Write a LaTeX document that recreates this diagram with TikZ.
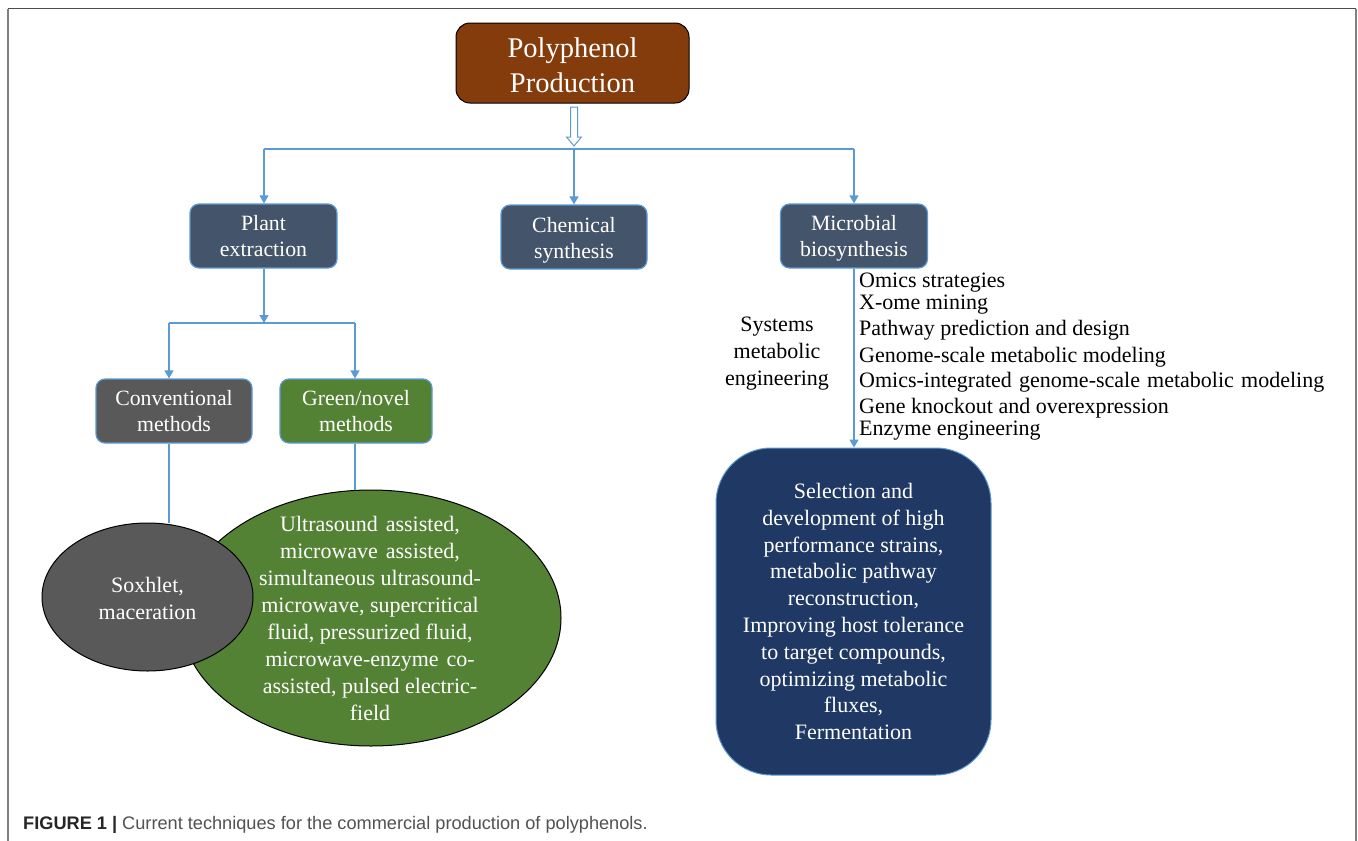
\documentclass[tikz,border=0pt]{standalone}
\usepackage{fontspec}
\setmainfont{Liberation Serif}
\newfontfamily\capfont{Liberation Sans}
\usetikzlibrary{shapes.geometric,arrows.meta}
\definecolor{linkblue}{HTML}{5B9BD5}
\definecolor{brownfill}{HTML}{843C0C}
\definecolor{slatefill}{HTML}{44546A}
\definecolor{darkgrey}{HTML}{595959}
\definecolor{greenfill}{HTML}{548235}
\definecolor{navyfill}{HTML}{1F3864}
\definecolor{framegrey}{HTML}{808080}
\definecolor{frametop}{HTML}{4D4D4D}
\tikzset{
  x=1pt,y=-1pt,
  link/.style={draw=linkblue,line width=1.4pt},
  arrowlink/.style={link,-{Triangle[length=8pt,width=9pt]}},
  boxbase/.style={rounded corners=9pt,draw=linkblue,line width=1.2pt,text=white,align=center,inner sep=0pt,anchor=center,font=\fontsize{21.8}{26}\selectfont},
  slatebox/.style={boxbase,fill=slatefill},
  greybox/.style={boxbase,fill=darkgrey},
  greenbox/.style={boxbase,fill=greenfill},
  blob/.style={ellipse,draw=black,line width=1pt,text=white,align=center,inner sep=0pt},
  listline/.style={anchor=west,inner sep=0pt,text=black,font=\fontsize{22}{24}\selectfont},
}
\begin{document}
\begin{tikzpicture}
\useasboundingbox (0,0) rectangle (1358,841);
\fill[white] (0,0) rectangle (1358,841);
\draw[framegrey,line width=1.4pt] (8,841) -- (8,8.5);
\draw[framegrey,line width=1.4pt] (1356,8.5) -- (1356,841);
\draw[frametop,line width=1.2pt] (8,8.5) -- (1356,8.5);
\node[rounded corners=14pt,draw=black,line width=1pt,fill=brownfill,text=white,minimum width=233pt,minimum height=80pt,inner sep=0pt,align=center,font=\fontsize{28.5}{35}\selectfont] (root) at (572.5,63) {\rule{0pt}{25pt}Polyphenol\\Production};
\coordinate (hubleft) at (264,149);
\coordinate (hubright) at (854,149);
\coordinate (hubmid) at (574,149);
\node[slatebox,minimum width=147pt,minimum height=64pt] (plant) at (263.5,236) {Plant\\extraction};
\node[slatebox,minimum width=146pt,minimum height=64pt] (chem) at (574,237) {\rule{0pt}{21pt}Chemical\\synthesis};
\node[slatebox,minimum width=147pt,minimum height=64pt] (micro) at (854,236) {\rule{0pt}{19pt}Microbial\\biosynthesis};
\node[greybox,minimum width=156pt,minimum height=64pt] (conv) at (174,411) {Conventional\\methods};
\node[greenbox,minimum width=152pt,minimum height=64pt] (green) at (356,411) {Green/novel\\methods};
\node[blob,fill=greenfill,minimum width=380pt,minimum height=256pt] (greenell) at (371,618) {};
\node[blob,fill=darkgrey,minimum width=211pt,minimum height=148pt,font=\fontsize{22}{27}\selectfont] (grayell) at (147.5,597) {\rule{0pt}{19pt}Soxhlet,\\maceration};
\node[text=white,align=center,inner sep=0pt,font=\fontsize{22}{26.9}\selectfont] (greentext) at (370,618.5) {\spaceskip=.36em Ultrasound assisted,\\\spaceskip=.36em microwave assisted,\\simultaneous ultrasound-\\microwave, supercritical\\fluid, pressurized fluid,\\\spaceskip=.36em microwave-enzyme co-\\assisted, pulsed electric-\\field};
\node[rounded corners=55pt,draw=linkblue,line width=1pt,fill=navyfill,text=white,minimum width=275pt,minimum height=327pt,inner sep=0pt,align=center,font=\fontsize{22}{26.8}\selectfont] (navy) at (853.5,611.5) {Selection and\\development of high\\performance strains,\\metabolic pathway\\reconstruction,\\Improving host tolerance\\to target compounds,\\optimizing metabolic\\fluxes,\\Fermentation};
\node[align=center,inner sep=0pt,font=\fontsize{22}{27}\selectfont] (sme) at (777,353.5) {Systems\\metabolic\\engineering};
\node[listline] (l1) at (859,283) {Omics strategies};
\node[listline] (l2) at (859,304.5) {X-ome mining};
\node[listline] (l3) at (859,330) {Pathway prediction and design};
\node[listline] (l4) at (859,357) {Genome-scale metabolic modeling};
\node[listline] (l5) at (859,382.5) {\makebox[465pt][s]{Omics-integrated genome-scale metabolic modeling}};
\node[listline] (l6) at (859,408.5) {Gene knockout and overexpression};
\node[listline] (l7) at (859,431) {Enzyme engineering};
\node[anchor=base west,inner sep=0pt,text=black!68,font=\capfont\fontsize{18.18}{20}\selectfont] (cap) at (23,829) {\textcolor{black!85}{\textbf{FIGURE 1 |}} Current techniques for the commercial production of polyphenols.};
% connectors
\draw[draw=linkblue,fill=white,line width=1pt] (570.5,107) -- (577.5,107) -- (577.5,137) -- (581.5,137) -- (574,146) -- (566.5,137) -- (570.5,137) -- cycle;
\draw[link] (hubleft) -- (hubright);
\draw[arrowlink] (hubleft) -- (hubleft |- plant.north);
\draw[arrowlink] (hubmid) -- (chem.north);
\draw[arrowlink] (hubright) -- (micro.north);
\coordinate (subhub) at (264,323);
\coordinate (subleft) at (169,323);
\coordinate (subright) at (355,323);
\draw[arrowlink] (subhub |- plant.south) -- (subhub);
\draw[link] (subleft) -- (subright);
\draw[arrowlink] (subleft) -- (subleft |- conv.north);
\draw[arrowlink] (subright) -- (subright |- green.north);
\draw[link] (subleft |- conv.south) -- (subleft |- grayell.north);
\draw[link] (subright |- green.south) -- (subright |- greenell.north);
\draw[arrowlink] (micro.south) -- (micro.south |- navy.north);
\end{tikzpicture}
\end{document}
